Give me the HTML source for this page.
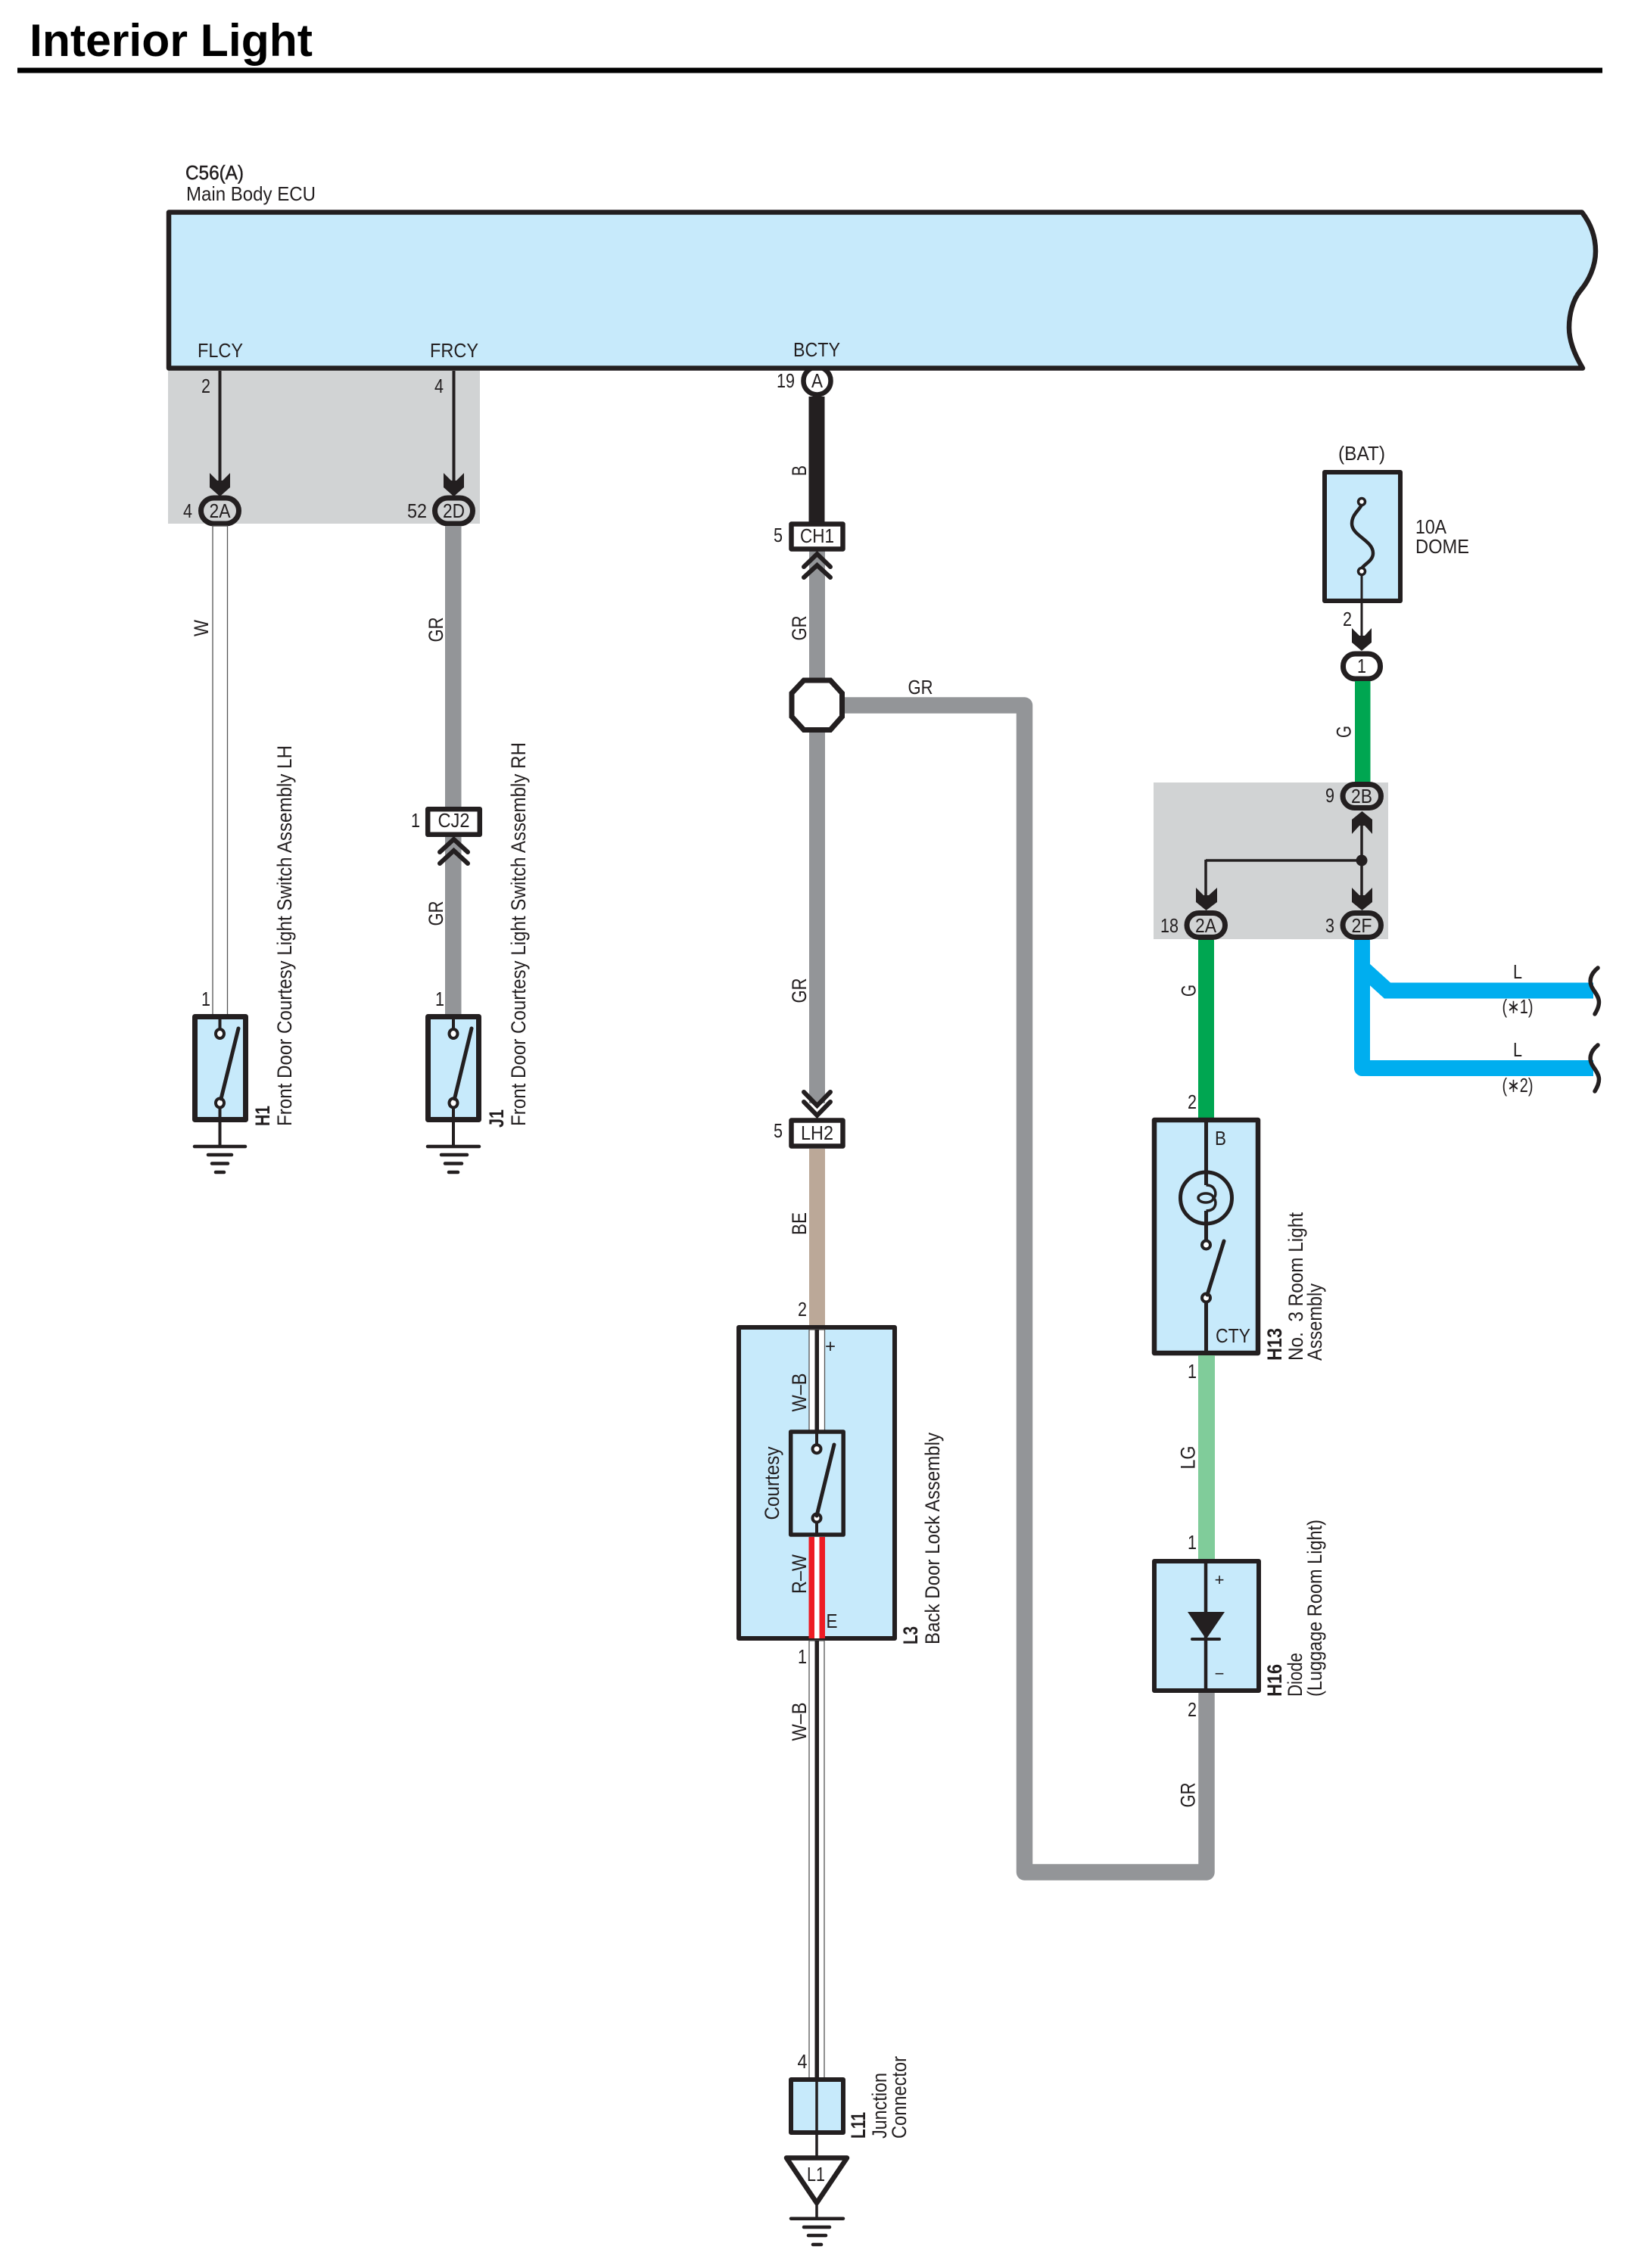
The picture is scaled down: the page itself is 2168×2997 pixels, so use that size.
<!DOCTYPE html>
<html><head><meta charset="utf-8"><title>Interior Light</title>
<style>
html,body{margin:0;padding:0;background:#fff}
svg{display:block}
text{font-family:"Liberation Sans",sans-serif;font-size:26px;fill:#231f20}
.m{text-anchor:middle}
.r{font-size:27px}
</style></head><body>
<svg xmlns="http://www.w3.org/2000/svg" width="2168" height="2997" viewBox="0 0 2168 2997">
<rect width="2168" height="2997" fill="#fff"/>

<text x="39" y="74" style="font-size:60px;font-weight:bold;fill:#000" textLength="374" lengthAdjust="spacingAndGlyphs">Interior Light</text>
<rect x="23" y="89.5" width="2094" height="7" fill="#000"/>

<!-- gray boxes -->
<rect x="222" y="488" width="412" height="204" fill="#d1d3d4"/>
<rect x="1524" y="1034" width="310" height="207" fill="#d1d3d4"/>

<!-- pill A behind ECU -->
<rect x="1061.5" y="485" width="36" height="36.5" rx="18" fill="#fff" stroke="#231f20" stroke-width="6.5"/>

<!-- ECU -->
<text x="245" y="237" stroke="#231f20" stroke-width=".5" textLength="77" lengthAdjust="spacingAndGlyphs">C56(A)</text>
<text x="246" y="265" textLength="171" lengthAdjust="spacingAndGlyphs">Main Body ECU</text>
<path d="M223 280.5H2090C2102 296 2108 314 2108 332C2108 352 2099 371 2088 384C2078 396 2073 415 2073 433C2073 452 2081 470 2091 486.5H223Z" fill="#c7eafb" stroke="#231f20" stroke-width="6.5" stroke-linejoin="round"/>
<text class="m" x="291" y="472" textLength="60" lengthAdjust="spacingAndGlyphs">FLCY</text>
<text class="m" x="600" y="472" textLength="64" lengthAdjust="spacingAndGlyphs">FRCY</text>
<text class="m" x="1079" y="471" textLength="62" lengthAdjust="spacingAndGlyphs">BCTY</text>

<!-- FLCY branch -->
<line x1="290.5" y1="490" x2="290.5" y2="640" stroke="#231f20" stroke-width="4"/>
<polygon points="277,625 287,635 294,635 304,625 304,644 290.5,656 277,644" fill="#231f20"/>
<rect x="265.5" y="658" width="50" height="34" rx="17" fill="#d1d3d4" stroke="#231f20" stroke-width="7"/>
<text class="m" x="290.5" y="684" textLength="28" lengthAdjust="spacingAndGlyphs">2A</text>
<text class="m" x="272" y="519" textLength="12" lengthAdjust="spacingAndGlyphs">2</text>
<text class="m" x="248" y="684" textLength="12" lengthAdjust="spacingAndGlyphs">4</text>
<rect x="281" y="695" width="19.5" height="648" fill="#fff" stroke="#555" stroke-width="1.3"/>
<text class="r m" transform="translate(275 830) rotate(-90)" textLength="22" lengthAdjust="spacingAndGlyphs">W</text>
<text class="m" x="272" y="1329" textLength="12" lengthAdjust="spacingAndGlyphs">1</text>

<!-- FRCY branch -->
<line x1="599.5" y1="490" x2="599.5" y2="640" stroke="#231f20" stroke-width="4"/>
<polygon points="586,625 596,635 603,635 613,625 613,644 599.5,656 586,644" fill="#231f20"/>
<rect x="574.5" y="658" width="50" height="34" rx="17" fill="#d1d3d4" stroke="#231f20" stroke-width="7"/>
<text class="m" x="599.5" y="684" textLength="29" lengthAdjust="spacingAndGlyphs">2D</text>
<text class="m" x="580" y="519" textLength="12" lengthAdjust="spacingAndGlyphs">4</text>
<text class="m" x="551" y="684" textLength="26" lengthAdjust="spacingAndGlyphs">52</text>
<rect x="588" y="695" width="21.5" height="648" fill="#939598"/>
<text class="r m" transform="translate(585 832) rotate(-90)" textLength="33" lengthAdjust="spacingAndGlyphs">GR</text>
<text class="r m" transform="translate(585 1207) rotate(-90)" textLength="33" lengthAdjust="spacingAndGlyphs">GR</text>
<polyline points="581,1126 599.5,1109 618,1126" fill="none" stroke="#231f20" stroke-width="6" stroke-linecap="round"/>
<polyline points="581,1141 599.5,1124 618,1141" fill="none" stroke="#231f20" stroke-width="6" stroke-linecap="round"/>
<rect x="565.2" y="1069.2" width="68.6" height="33.6" fill="#fff" stroke="#231f20" stroke-width="6.5" stroke-linejoin="round"/>
<text class="m" x="599.5" y="1093" textLength="42" lengthAdjust="spacingAndGlyphs">CJ2</text>
<text class="m" x="549" y="1093" textLength="12" lengthAdjust="spacingAndGlyphs">1</text>
<text class="m" x="581" y="1329" textLength="12" lengthAdjust="spacingAndGlyphs">1</text>

<!-- H1 -->
<rect x="257.5" y="1343.5" width="67" height="136" fill="#c7eafb" stroke="#231f20" stroke-width="7" stroke-linejoin="round"/>
<line x1="290.5" y1="1343" x2="290.5" y2="1360" stroke="#231f20" stroke-width="4"/>
<line x1="290.5" y1="1463" x2="290.5" y2="1515" stroke="#231f20" stroke-width="4"/>
<ellipse cx="290.5" cy="1366" rx="5.5" ry="6" fill="#fff" stroke="#231f20" stroke-width="4"/>
<ellipse cx="290.5" cy="1457.5" rx="5.5" ry="6" fill="#fff" stroke="#231f20" stroke-width="4"/>
<line x1="292" y1="1452" x2="315" y2="1359" stroke="#231f20" stroke-width="5" stroke-linecap="round"/>
<g stroke="#231f20" stroke-width="4.5" stroke-linecap="round">
<line x1="257" y1="1515" x2="324" y2="1515"/><line x1="275" y1="1526" x2="306" y2="1526"/><line x1="280" y1="1537.5" x2="301" y2="1537.5"/><line x1="285" y1="1549" x2="296" y2="1549"/>
</g>
<text class="r" transform="translate(356 1488) rotate(-90)" style="font-weight:bold" textLength="27" lengthAdjust="spacingAndGlyphs">H1</text>
<text class="r" transform="translate(385 1488) rotate(-90)" textLength="503" lengthAdjust="spacingAndGlyphs">Front Door Courtesy Light Switch Assembly LH</text>

<!-- J1 -->
<rect x="565.5" y="1343.5" width="67" height="136" fill="#c7eafb" stroke="#231f20" stroke-width="7" stroke-linejoin="round"/>
<line x1="599" y1="1343" x2="599" y2="1360" stroke="#231f20" stroke-width="4"/>
<line x1="599" y1="1463" x2="599" y2="1515" stroke="#231f20" stroke-width="4"/>
<ellipse cx="599" cy="1366" rx="5.5" ry="6" fill="#fff" stroke="#231f20" stroke-width="4"/>
<ellipse cx="599" cy="1457.5" rx="5.5" ry="6" fill="#fff" stroke="#231f20" stroke-width="4"/>
<line x1="600.5" y1="1452" x2="623" y2="1359" stroke="#231f20" stroke-width="5" stroke-linecap="round"/>
<g stroke="#231f20" stroke-width="4.5" stroke-linecap="round">
<line x1="565" y1="1515" x2="633" y2="1515"/><line x1="583" y1="1526" x2="617" y2="1526"/><line x1="588" y1="1537.5" x2="610" y2="1537.5"/><line x1="593" y1="1549" x2="605" y2="1549"/>
</g>
<text class="r" transform="translate(665 1490) rotate(-90)" style="font-weight:bold" textLength="24" lengthAdjust="spacingAndGlyphs">J1</text>
<text class="r" transform="translate(694 1488) rotate(-90)" textLength="507" lengthAdjust="spacingAndGlyphs">Front Door Courtesy Light Switch Assembly RH</text>

<!-- BCTY branch -->
<rect x="1068.5" y="524" width="21" height="168" fill="#231f20"/>
<text class="m" x="1079.5" y="512" textLength="15" lengthAdjust="spacingAndGlyphs">A</text>
<text class="m" x="1038" y="512" textLength="24" lengthAdjust="spacingAndGlyphs">19</text>
<text class="r m" transform="translate(1065 622) rotate(-90)" textLength="14" lengthAdjust="spacingAndGlyphs">B</text>
<rect x="1069" y="728" width="21" height="730" fill="#939598"/>
<polyline points="1062,749 1079.5,732 1097,749" fill="none" stroke="#231f20" stroke-width="6" stroke-linecap="round"/>
<polyline points="1062,763 1079.5,747 1097,763" fill="none" stroke="#231f20" stroke-width="6" stroke-linecap="round"/>
<rect x="1045.5" y="692.5" width="68" height="33" fill="#fff" stroke="#231f20" stroke-width="6.5" stroke-linejoin="round"/>
<text class="m" x="1079.5" y="717" textLength="45" lengthAdjust="spacingAndGlyphs">CH1</text>
<text class="m" x="1028" y="716" textLength="12" lengthAdjust="spacingAndGlyphs">5</text>
<text class="r m" transform="translate(1065 830) rotate(-90)" textLength="33" lengthAdjust="spacingAndGlyphs">GR</text>
<text class="r m" transform="translate(1065 1309) rotate(-90)" textLength="33" lengthAdjust="spacingAndGlyphs">GR</text>

<!-- long GR loop -->
<path d="M1100 932H1353.5V2474H1594V2236" fill="none" stroke="#939598" stroke-width="21.5" stroke-linejoin="round"/>
<polygon points="1062,899 1097,899 1112.5,916 1112.5,947 1097,964.5 1062,964.5 1046,947 1046,916" fill="#fff" stroke="#231f20" stroke-width="7"/>
<text class="m" x="1216" y="917" textLength="33" lengthAdjust="spacingAndGlyphs">GR</text>

<!-- LH2 -->
<polyline points="1062,1443 1079.5,1461 1097,1443" fill="none" stroke="#231f20" stroke-width="6" stroke-linecap="round"/>
<polyline points="1062,1456 1079.5,1474 1097,1456" fill="none" stroke="#231f20" stroke-width="6" stroke-linecap="round"/>
<rect x="1045.5" y="1480.5" width="68" height="34" fill="#fff" stroke="#231f20" stroke-width="6.5" stroke-linejoin="round"/>
<text class="m" x="1079.5" y="1506" textLength="43" lengthAdjust="spacingAndGlyphs">LH2</text>
<text class="m" x="1028" y="1503" textLength="12" lengthAdjust="spacingAndGlyphs">5</text>
<rect x="1069" y="1518" width="21" height="236" fill="#bba898"/>
<text class="r m" transform="translate(1065 1617) rotate(-90)" textLength="30" lengthAdjust="spacingAndGlyphs">BE</text>
<text class="m" x="1060" y="1739" textLength="12" lengthAdjust="spacingAndGlyphs">2</text>

<!-- L3 -->
<rect x="976" y="1754" width="206" height="411" fill="#c7eafb" stroke="#231f20" stroke-width="6" stroke-linejoin="round"/>
<rect x="1069" y="1757" width="20.5" height="134" fill="#fff" stroke="#555" stroke-width="1.3"/>
<rect x="1076.5" y="1757" width="5.5" height="134" fill="#231f20"/>
<rect x="1068.5" y="2031" width="21.5" height="134" fill="#ed1c24"/>
<rect x="1076" y="2031" width="6.5" height="134" fill="#fff"/>
<rect x="1044.7" y="1892" width="69.5" height="136" fill="#c7eafb" stroke="#231f20" stroke-width="5.5" stroke-linejoin="round"/>
<line x1="1079" y1="1892" x2="1079" y2="1909" stroke="#231f20" stroke-width="4"/>
<line x1="1079" y1="2012" x2="1079" y2="2028" stroke="#231f20" stroke-width="4"/>
<circle cx="1079" cy="1914.7" r="5.5" fill="#fff" stroke="#231f20" stroke-width="4"/>
<circle cx="1079" cy="2006" r="5.5" fill="#fff" stroke="#231f20" stroke-width="4"/>
<line x1="1079" y1="2003" x2="1102" y2="1909" stroke="#231f20" stroke-width="5" stroke-linecap="round"/>
<text class="m" x="1097" y="1787" style="font-size:24px">+</text>
<text class="m" x="1099" y="2151" textLength="15" lengthAdjust="spacingAndGlyphs">E</text>
<text class="r m" transform="translate(1065 1840) rotate(-90)" textLength="51" lengthAdjust="spacingAndGlyphs">W–B</text>
<text class="r m" transform="translate(1065 2080) rotate(-90)" textLength="52" lengthAdjust="spacingAndGlyphs">R–W</text>
<text class="r m" transform="translate(1029 1960) rotate(-90)" textLength="97" lengthAdjust="spacingAndGlyphs">Courtesy</text>
<text class="r" transform="translate(1212 2173) rotate(-90)" style="font-weight:bold" textLength="24" lengthAdjust="spacingAndGlyphs">L3</text>
<text class="r" transform="translate(1241 2173) rotate(-90)" textLength="280" lengthAdjust="spacingAndGlyphs">Back Door Lock Assembly</text>
<text class="m" x="1060" y="2198" textLength="12" lengthAdjust="spacingAndGlyphs">1</text>
<text class="r m" transform="translate(1065 2275) rotate(-90)" textLength="51" lengthAdjust="spacingAndGlyphs">W–B</text>

<!-- W-B lower -->
<rect x="1069" y="2168" width="20" height="578" fill="#fff" stroke="#555" stroke-width="1.3"/>
<rect x="1076.5" y="2168" width="5.5" height="578" fill="#231f20"/>
<text class="m" x="1060" y="2733" textLength="13" lengthAdjust="spacingAndGlyphs">4</text>

<!-- L11 -->
<rect x="1045" y="2748" width="69" height="70" fill="#c7eafb" stroke="#231f20" stroke-width="6" stroke-linejoin="round"/>
<line x1="1079" y1="2748" x2="1079" y2="2852" stroke="#231f20" stroke-width="3.5"/>
<text class="r" transform="translate(1143 2826) rotate(-90)" style="font-weight:bold" textLength="35" lengthAdjust="spacingAndGlyphs">L11</text>
<text class="r" transform="translate(1171 2826) rotate(-90)" textLength="87" lengthAdjust="spacingAndGlyphs">Junction</text>
<text class="r" transform="translate(1197 2826) rotate(-90)" textLength="109" lengthAdjust="spacingAndGlyphs">Connector</text>
<polygon points="1039,2851.5 1119,2851.5 1079,2911" fill="#fff" stroke="#231f20" stroke-width="6.5" stroke-linejoin="round"/>
<text class="m" x="1078" y="2882" textLength="24" lengthAdjust="spacingAndGlyphs">L1</text>
<line x1="1079" y1="2912" x2="1079" y2="2932" stroke="#231f20" stroke-width="3.5"/>
<g stroke="#231f20" stroke-width="4.5" stroke-linecap="round">
<line x1="1045" y1="2931.7" x2="1114" y2="2931.7"/><line x1="1062" y1="2943" x2="1096" y2="2943"/><line x1="1068" y1="2954" x2="1091" y2="2954"/><line x1="1074" y1="2966" x2="1085" y2="2966"/>
</g>

<!-- BAT fuse -->
<text class="m" x="1799" y="608" textLength="62" lengthAdjust="spacingAndGlyphs">(BAT)</text>
<rect x="1750" y="624" width="100" height="170" fill="#c7eafb" stroke="#231f20" stroke-width="6" stroke-linejoin="round"/>
<path d="M1799 667C1795 675 1786 680 1786 692C1786 708 1814 714 1814 731C1814 741 1803 745 1799 751" fill="none" stroke="#231f20" stroke-width="4.5"/>
<circle cx="1799" cy="663" r="4.5" fill="#fff" stroke="#231f20" stroke-width="3.5"/>
<circle cx="1799" cy="755" r="4.5" fill="#fff" stroke="#231f20" stroke-width="3.5"/>
<line x1="1799" y1="759" x2="1799" y2="845" stroke="#231f20" stroke-width="3"/>
<polygon points="1786,830 1796,840 1803,840 1812,830 1812,849 1799,860 1786,849" fill="#231f20"/>
<text x="1870" y="705" textLength="41" lengthAdjust="spacingAndGlyphs">10A</text>
<text x="1870" y="731" textLength="71" lengthAdjust="spacingAndGlyphs">DOME</text>
<text class="m" x="1780" y="827" textLength="12" lengthAdjust="spacingAndGlyphs">2</text>
<rect x="1774.5" y="864" width="49" height="33" rx="16" fill="#fff" stroke="#231f20" stroke-width="7"/>
<text class="m" x="1799" y="889" textLength="12" lengthAdjust="spacingAndGlyphs">1</text>
<rect x="1790" y="900" width="20.5" height="134" fill="#00a651"/>
<text class="r m" transform="translate(1784.5 967) rotate(-90)" textLength="16" lengthAdjust="spacingAndGlyphs">G</text>

<!-- 2B / 2A / 2F -->
<line x1="1799" y1="1090" x2="1799" y2="1190" stroke="#231f20" stroke-width="3.5"/>
<line x1="1593" y1="1137" x2="1799" y2="1137" stroke="#231f20" stroke-width="3.5"/>
<line x1="1593" y1="1136" x2="1593" y2="1190" stroke="#231f20" stroke-width="3.5"/>
<circle cx="1799" cy="1137" r="7.5" fill="#231f20"/>
<polygon points="1786,1102 1796,1091 1803,1091 1813,1102 1813,1083 1799.5,1072 1786,1083" fill="#231f20"/>
<polygon points="1786,1173 1796,1183 1803,1183 1813,1173 1813,1192 1799.5,1203 1786,1192" fill="#231f20"/>
<polygon points="1580,1173 1590,1183 1597,1183 1608,1173 1608,1192 1593.5,1203 1580,1192" fill="#231f20"/>
<rect x="1774" y="1036.5" width="50.5" height="31" rx="15.5" fill="#d1d3d4" stroke="#231f20" stroke-width="7"/>
<text class="m" x="1799" y="1061" textLength="28" lengthAdjust="spacingAndGlyphs">2B</text>
<text class="m" x="1757" y="1060" textLength="12" lengthAdjust="spacingAndGlyphs">9</text>
<rect x="1568" y="1206.5" width="50.5" height="32" rx="16" fill="#d1d3d4" stroke="#231f20" stroke-width="7"/>
<text class="m" x="1593" y="1232" textLength="28" lengthAdjust="spacingAndGlyphs">2A</text>
<text class="m" x="1545" y="1232" textLength="24" lengthAdjust="spacingAndGlyphs">18</text>
<rect x="1774" y="1206.5" width="50.5" height="32" rx="16" fill="#d1d3d4" stroke="#231f20" stroke-width="7"/>
<text class="m" x="1799" y="1232" textLength="27" lengthAdjust="spacingAndGlyphs">2F</text>
<text class="m" x="1757" y="1232" textLength="12" lengthAdjust="spacingAndGlyphs">3</text>

<!-- L wires -->
<path d="M1799.5 1242V1411.5H2105" fill="none" stroke="#00aeef" stroke-width="21" stroke-linejoin="round"/>
<path d="M1800 1279L1833 1309H2105" fill="none" stroke="#00aeef" stroke-width="21" stroke-linejoin="miter"/>
<path d="M2111 1279C2100 1288 2099 1298 2104 1306C2110 1316 2118 1322 2107 1340" fill="none" stroke="#231f20" stroke-width="5.5" stroke-linecap="round"/>
<path d="M2111 1381C2100 1390 2099 1400 2104 1408C2110 1418 2118 1424 2107 1442" fill="none" stroke="#231f20" stroke-width="5.5" stroke-linecap="round"/>
<text class="m" x="2005" y="1293" textLength="12" lengthAdjust="spacingAndGlyphs">L</text>
<text class="m" x="2005" y="1396" textLength="12" lengthAdjust="spacingAndGlyphs">L</text>
<text class="m" x="2005" y="1339" textLength="41" lengthAdjust="spacingAndGlyphs">(∗1)</text>
<text class="m" x="2005" y="1443" textLength="41" lengthAdjust="spacingAndGlyphs">(∗2)</text>

<!-- G wire to H13 -->
<rect x="1583" y="1242" width="21" height="237" fill="#00a651"/>
<text class="r m" transform="translate(1579.5 1309) rotate(-90)" textLength="16" lengthAdjust="spacingAndGlyphs">G</text>
<text class="m" x="1575" y="1465" textLength="12" lengthAdjust="spacingAndGlyphs">2</text>

<!-- H13 -->
<rect x="1525" y="1480" width="137" height="308" fill="#c7eafb" stroke="#231f20" stroke-width="6.5" stroke-linejoin="round"/>
<line x1="1593.5" y1="1480" x2="1593.5" y2="1566" stroke="#231f20" stroke-width="5"/>
<line x1="1593.5" y1="1600" x2="1593.5" y2="1640" stroke="#231f20" stroke-width="5"/>
<circle cx="1593.5" cy="1583" r="34" fill="none" stroke="#231f20" stroke-width="5"/>
<path d="M1593.5 1566C1606 1566 1608 1578 1604 1583C1608 1590 1606 1600 1593.5 1600" fill="none" stroke="#231f20" stroke-width="3.5"/>
<ellipse cx="1593" cy="1583" rx="10" ry="6" fill="none" stroke="#231f20" stroke-width="3.5"/>
<circle cx="1593.5" cy="1645" r="5.5" fill="#fff" stroke="#231f20" stroke-width="4"/>
<circle cx="1593.5" cy="1715" r="5.5" fill="#fff" stroke="#231f20" stroke-width="4"/>
<line x1="1595" y1="1711" x2="1617" y2="1640" stroke="#231f20" stroke-width="5" stroke-linecap="round"/>
<line x1="1593.5" y1="1720" x2="1593.5" y2="1789" stroke="#231f20" stroke-width="5"/>
<text x="1605" y="1513" textLength="15" lengthAdjust="spacingAndGlyphs">B</text>
<text x="1606" y="1774" textLength="46" lengthAdjust="spacingAndGlyphs">CTY</text>
<text class="r" transform="translate(1693 1798) rotate(-90)" style="font-weight:bold" textLength="43" lengthAdjust="spacingAndGlyphs">H13</text>
<text class="r" transform="translate(1721 1798) rotate(-90)" textLength="196" lengthAdjust="spacingAndGlyphs" xml:space="preserve">No.  3 Room Light</text>
<text class="r" transform="translate(1746 1798) rotate(-90)" textLength="102" lengthAdjust="spacingAndGlyphs">Assembly</text>

<!-- LG -->
<rect x="1583" y="1791" width="22" height="269" fill="#80cc9a"/>
<text class="m" x="1575" y="1821" textLength="12" lengthAdjust="spacingAndGlyphs">1</text>
<text class="m" x="1575" y="2047" textLength="12" lengthAdjust="spacingAndGlyphs">1</text>
<text class="r m" transform="translate(1578.5 1926) rotate(-90)" textLength="31" lengthAdjust="spacingAndGlyphs">LG</text>

<!-- H16 -->
<rect x="1525" y="2063" width="138" height="171" fill="#c7eafb" stroke="#231f20" stroke-width="6" stroke-linejoin="round"/>
<line x1="1593" y1="2063" x2="1593" y2="2234" stroke="#231f20" stroke-width="4.5"/>
<polygon points="1569,2130 1618,2130 1593.5,2166" fill="#231f20"/>
<line x1="1575" y1="2166" x2="1611" y2="2166" stroke="#231f20" stroke-width="4" stroke-linecap="round"/>
<text class="m" x="1611" y="2095" style="font-size:22px">+</text>
<text class="m" x="1611" y="2219" style="font-size:22px">−</text>
<text class="m" x="1575" y="2268" textLength="12" lengthAdjust="spacingAndGlyphs">2</text>
<text class="r m" transform="translate(1578.5 2372) rotate(-90)" textLength="33" lengthAdjust="spacingAndGlyphs">GR</text>
<text class="r" transform="translate(1693 2242) rotate(-90)" style="font-weight:bold" textLength="43" lengthAdjust="spacingAndGlyphs">H16</text>
<text class="r" transform="translate(1720 2242) rotate(-90)" textLength="58" lengthAdjust="spacingAndGlyphs">Diode</text>
<text class="r" transform="translate(1746 2242) rotate(-90)" textLength="234" lengthAdjust="spacingAndGlyphs">(Luggage Room Light)</text>
</svg>
</body></html>
